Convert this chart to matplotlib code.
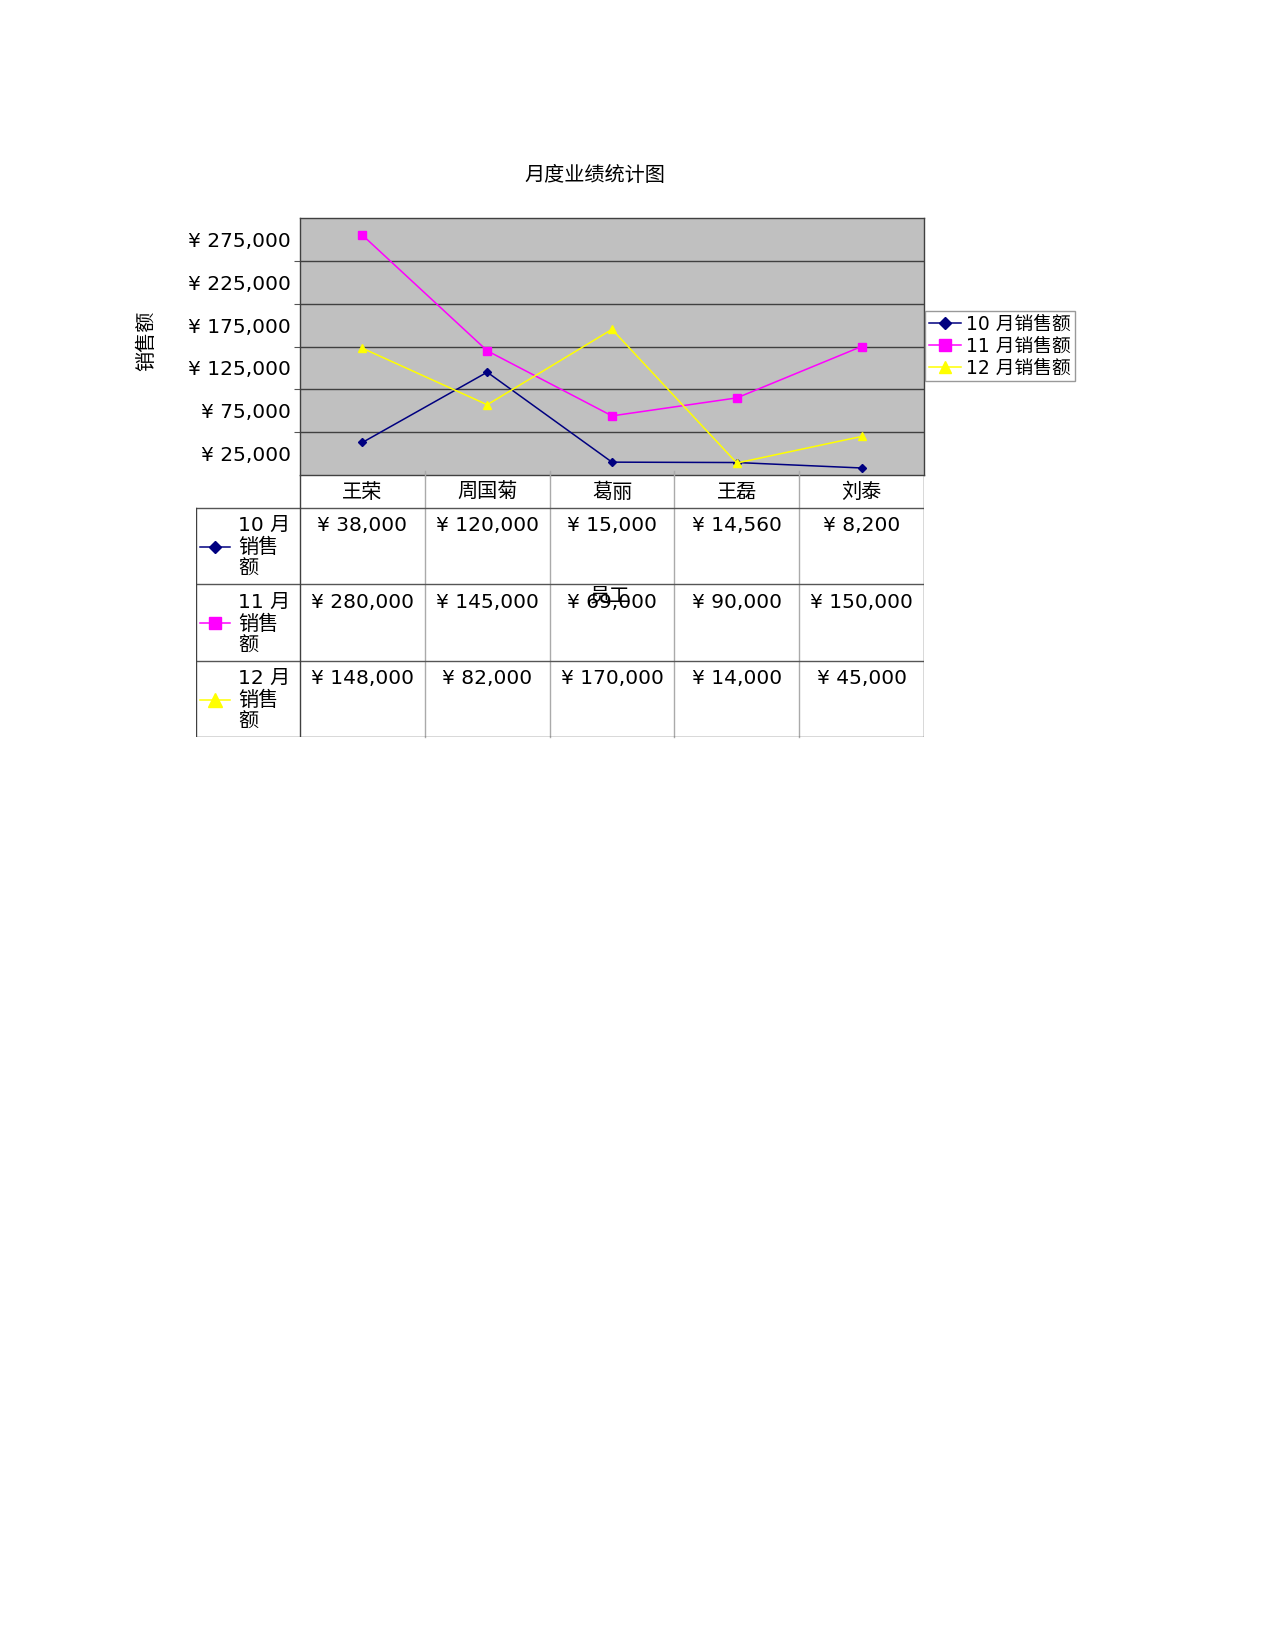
import matplotlib
matplotlib.use("Agg")
import matplotlib.pyplot as plt
from matplotlib.lines import Line2D

plt.rcParams["font.family"] = ["DejaVu Sans", "Noto Sans CJK SC"]

W, H = 1275, 1650

employees = ["王荣", "周国菊", "葛丽", "王磊", "刘泰"]
series_names = ["10 月销售额", "11 月销售额", "12 月销售额"]
row_labels = [("10 月", "销售", "额"), ("11 月", "销售", "额"), ("12 月", "销售", "额")]
oct_sales = [38000, 120000, 15000, 14560, 8200]
nov_sales = [280000, 145000, 69000, 90000, 150000]
dec_sales = [148000, 82000, 170000, 14000, 45000]
label_ticks = [25000, 75000, 125000, 175000, 225000, 275000]
grid_ticks = [50000, 100000, 150000, 200000, 250000]

colors = ["#000080", "#ff00ff", "#ffff00"]
markers = ["D", "s", "^"]
msizes = [4, 5.5, 6]
series = [oct_sales, nov_sales, dec_sales]
FS = 14.5

# plot area in pixels
PL, PT, PR, PB = 300, 218, 924, 475
TL, TB = 196, 737


def box(x0, y0, x1, y1):
    return [x0 / W, 1 - y1 / H, (x1 - x0) / W, (y1 - y0) / H]


fig = plt.figure(figsize=(W / 100, H / 100), dpi=100)

ax = fig.add_axes(box(PL, PT, PR, PB))
ax.set_facecolor("#c0c0c0")
xs = [i + 0.5 for i in range(len(employees))]
for vals, c, m, ms, name in zip(series, colors, markers, msizes, series_names):
    ax.plot(xs, vals, color=c, marker=m, markersize=ms, linewidth=1.1,
            label=name, zorder=3)
ax.set_xlim(0, len(employees))
ax.set_ylim(0, 300000)
ax.set_yticks(grid_ticks, [""] * len(grid_ticks))
ax.set_yticks(label_ticks, [f"¥ {v:,}" for v in label_ticks], minor=True)
ax.tick_params(axis="y", which="major", length=4, direction="out", color="#555555")
ax.tick_params(axis="y", which="minor", length=0, pad=6.5, labelsize=FS)
ax.grid(axis="y", which="major", color="#404040", linewidth=1.0)
ax.set_xticks(range(1, len(employees)), [""] * (len(employees) - 1))
ax.tick_params(axis="x", length=4, direction="inout", color="#999999")
for s in ax.spines.values():
    s.set_color("#404040")
    s.set_linewidth(1.0)

fig.text(147 / W, 1 - 341 / H, "销售额", rotation=90, ha="center", va="center", fontsize=FS)
fig.text(595 / W, 1 - 175 / H, "月度业绩统计图", ha="center", va="center", fontsize=FS)

leg = ax.legend(loc="upper left", bbox_to_anchor=(925 / W, 1 - 311 / H),
                bbox_transform=fig.transFigure, frameon=True, fancybox=False,
                fontsize=13.5, handlelength=1.7, handletextpad=0.3, markerscale=1.5,
                borderpad=0.2, labelspacing=0.15, borderaxespad=0)
leg.get_frame().set_edgecolor("#808080")
leg.get_frame().set_linewidth(1.0)

# data table under the plot
tab = fig.add_axes(box(TL, PB, PR, TB))
col_w = (PR - PL) / len(employees)
label_w = (PL - TL) / col_w
tab_h = TB - PB
tab.set_xlim(-label_w, len(employees))
tab.set_ylim(tab_h, 0)
tab.axis("off")
header_h = 32.5
row_h = (tab_h - header_h) / len(series)
for i, name in enumerate(employees):
    tab.text(i + 0.5, 17, name, ha="center", va="center", fontsize=FS)
for i in range(1, len(employees)):
    tab.plot([i, i], [-4, tab_h], color="#aaaaaa", linewidth=1.0, clip_on=False)
for r, (vals, lab) in enumerate(zip(series, row_labels)):
    y0 = header_h + r * row_h
    tab.plot([-label_w, len(employees)], [y0, y0], color="#555555", linewidth=1.0)
    for i, v in enumerate(vals):
        tab.text(i + 0.5, y0 + 18, f"¥ {v:,}", ha="center", va="center", fontsize=FS)
    for k, part in enumerate(lab):
        tab.text(-label_w + 42 / col_w, y0 + 18 + 22 * k, part, ha="left", va="center",
                 fontsize=FS)
    lx0 = -label_w + 4 / col_w
    lx1 = -label_w + 34 / col_w
    tab.add_line(Line2D([lx0, (lx0 + lx1) / 2, lx1], [y0 + 39] * 3,
                        color=colors[r], marker=markers[r], markersize=msizes[r] * 1.6,
                        markevery=[1], linewidth=1.1))
tab.plot([-label_w, len(employees)], [tab_h, tab_h], color="#404040", linewidth=1.0)
tab.plot([-label_w, -label_w], [header_h, tab_h], color="#404040", linewidth=1.0)
tab.plot([0, 0], [0, tab_h], color="#404040", linewidth=1.0)
tab.plot([len(employees)] * 2, [0, tab_h], color="#404040", linewidth=1.0)

fig.text(610 / W, 1 - 596 / H, "员工", ha="center", va="center", fontsize=FS)

fig.savefig("out.png", dpi=100)
